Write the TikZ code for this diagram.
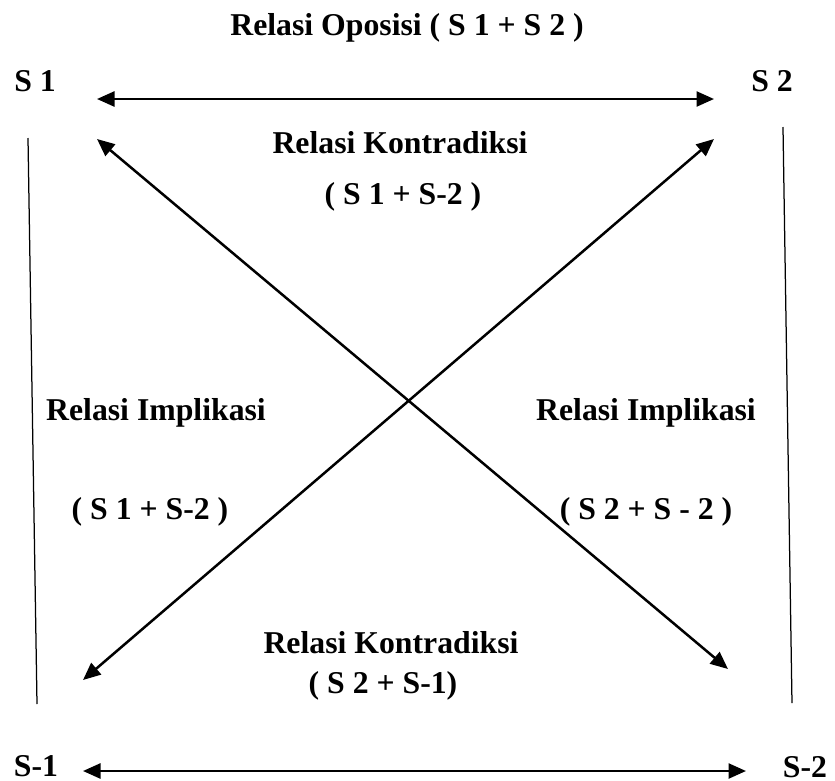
\documentclass[tikz,border=0pt]{standalone}
\usepackage{fontspec}
\setmainfont{Liberation Serif}
\usetikzlibrary{arrows.meta,positioning}

\begin{document}
\begin{tikzpicture}[
    x=0.4pt, y=-0.4pt,
    term/.style={inner sep=0pt, anchor=base, font=\fontsize{12.7}{15}\selectfont\bfseries},
    arrow/.style={{Triangle[length=7pt,width=6pt]}-{Triangle[length=7pt,width=6pt]}, line width=1pt},
    side/.style={line width=0.5pt}
]
\useasboundingbox (0,0) rectangle (835,781);

% Corner Terms
\node[term] (s1) at (35,91) {S 1};
\node[term] (s2) at (772,91) {S 2};
\node[term] (ns1) at (36,776) {S-1};
\node[term] (ns2) at (805,777) {S-2};

% Relation Labels
\node[term] (oposisi) at (407,35) {Relasi Oposisi ( S 1 + S 2 )};
\node[term] (kontraTop) at (400,153) {Relasi Kontradiksi};
\node[term] (kontraTopF) at (403,204) {( S 1 + S-2 )};
\node[term] (impliLeft) at (156,420) {Relasi Implikasi};
\node[term] (impliLeftF) at (150,519) {( S 1 + S-2 )};
\node[term] (impliRight) at (646,420) {Relasi Implikasi};
\node[term] (impliRightF) at (646,519) {( S 2 + S - 2 )};
\node[term] (kontraBot) at (391,653) {Relasi Kontradiksi};
\node[term] (kontraBotF) at (383,693) {( S 2 + S-1)};

% Arrow Ends
\coordinate (topL) at (97,99);
\coordinate (topR) at (714,99);
\coordinate (diagNW) at (97,139);
\coordinate (diagSE) at (728,669);
\coordinate (diagNE) at (714,139);
\coordinate (diagSW) at (83,680);
\coordinate (botL) at (83,771);
\coordinate (botR) at (746,771);
\coordinate (leftT) at (28,138);
\coordinate (leftB) at (37,704);
\coordinate (rightT) at (783,127);
\coordinate (rightB) at (792,703);

% Connections
\draw[arrow] (topL) -- (topR);
\draw[arrow] (diagNW) -- (diagSE);
\draw[arrow] (diagNE) -- (diagSW);
\draw[arrow] (botL) -- (botR);
\draw[side] (leftT) -- (leftB);
\draw[side] (rightT) -- (rightB);

\end{tikzpicture}
\end{document}
